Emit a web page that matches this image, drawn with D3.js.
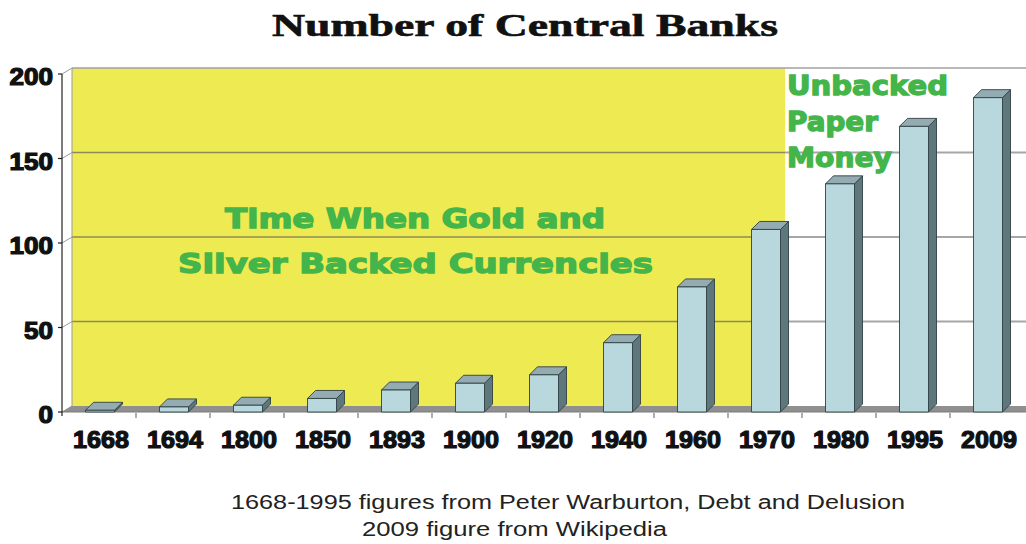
<!DOCTYPE html>
<html><head><meta charset="utf-8">
<script src="https://cdn.jsdelivr.net/npm/d3@7/dist/d3.min.js"></script>
<style>body{margin:0;background:#fff}svg{display:block}</style>
</head><body>
<svg id="c" width="1026" height="544"></svg>
<script>
const categories = ["1668","1694","1800","1850","1893","1900","1920","1940","1960","1970","1980","1995","2009"];
const values = [1, 3, 4, 8, 13, 17, 22, 41, 74, 108, 135, 169, 186];
const yTicks = [0, 50, 100, 150, 200];
const title = "Number of Central Banks";
const noteLines = ["1668-1995 figures from Peter Warburton, Debt and Delusion", "2009 figure from Wikipedia"];
const goldText = ["Time When Gold and", "Silver Backed Currencies"];
const paperText = ["Unbacked", "Paper", "Money"];
const goldEndCategory = "1970";

const svg = d3.select("#c");
const x = d3.scaleBand().domain(categories).range([62, 1024]).paddingInner(0).paddingOuter(0);
const y = d3.scaleLinear().domain([0, 200]).range([412, 74]);
const DX = 10, DY = -6;     // wall depth offset
const BD = 8;               // bar depth
const BW = 29;              // bar front width
const wallLeft = x.range()[0] + DX, wallRight = 1026;
const wallTop = y(200) + DY, wallBottom = y(0) + DY;

// back wall
svg.append("rect").attr("x", wallLeft).attr("y", wallTop).attr("width", wallRight - wallLeft).attr("height", wallBottom - wallTop).attr("fill", "#ffffff");
const yellowRight = x(goldEndCategory) + x.bandwidth() * 0.635 + DX;
svg.append("rect").attr("x", wallLeft).attr("y", wallTop).attr("width", yellowRight - wallLeft).attr("height", wallBottom - wallTop).attr("fill", "#eeea52");
svg.append("line").attr("x1", wallLeft).attr("x2", wallRight).attr("y1", wallTop).attr("y2", wallTop).attr("stroke", "#a0a0a0").attr("stroke-width", 1.5);

// gridlines on wall
yTicks.forEach(t => {
  const gy = y(t) + DY;
  if (t > 0 && t < 200) {
    svg.append("line").attr("x1", wallLeft).attr("x2", yellowRight).attr("y1", gy).attr("y2", gy).attr("stroke", "#8e8a58").attr("stroke-width", 1.6);
    svg.append("line").attr("x1", yellowRight).attr("x2", wallRight).attr("y1", gy).attr("y2", gy).attr("stroke", "#a6a6a6").attr("stroke-width", 2);
  }
  svg.append("line").attr("x1", x.range()[0]).attr("y1", y(t)).attr("x2", wallLeft).attr("y2", gy).attr("stroke", "#999").attr("stroke-width", 1);
});
svg.append("line").attr("x1", wallLeft).attr("x2", wallLeft).attr("y1", wallTop).attr("y2", wallBottom).attr("stroke", "#9a9a9a").attr("stroke-width", 1);

// floor
const fx0 = x.range()[0];
svg.append("path").attr("d", `M${fx0},${y(0)} L${fx0 + DX},${wallBottom} L${wallRight},${wallBottom} L${wallRight},${y(0)} Z`).attr("fill", "#8f8f8f");
svg.append("line").attr("x1", fx0).attr("x2", wallRight).attr("y1", y(0)).attr("y2", y(0)).attr("stroke", "#7a7a7a").attr("stroke-width", 1);

// x ticks below floor
categories.forEach((c, i) => {
  if (i === 0) return;
  svg.append("line").attr("x1", x(c)).attr("x2", x(c)).attr("y1", y(0) + 1).attr("y2", y(0) + 6).attr("stroke", "#777").attr("stroke-width", 1.2);
});

// green texts
const green = "#43b54a";
const g1 = svg.append("g").attr("fill", green).attr("stroke", green).attr("stroke-width", 1.3)
  .style("font-family", "'DejaVu Sans', sans-serif").style("font-weight", "bold");
g1.append("text").attr("x", 225).attr("y", 228).attr("font-size", 27).attr("textLength", 380).attr("lengthAdjust", "spacingAndGlyphs").text(goldText[0]);
g1.append("text").attr("x", 178).attr("y", 273).attr("font-size", 27).attr("textLength", 475).attr("lengthAdjust", "spacingAndGlyphs").text(goldText[1]);
const pLen = [161, 91, 105];
paperText.forEach((t, i) => {
  g1.append("text").attr("x", 787).attr("y", 95 + i * 36).attr("font-size", 27).attr("textLength", pLen[i]).attr("lengthAdjust", "spacingAndGlyphs").text(t);
});

// bars
const bars = svg.append("g");
categories.forEach((c, i) => {
  const v = values[i];
  const cx = x(c) + x.bandwidth() / 2 + 1;
  const l = cx - BW / 2, r = cx + BW / 2;
  const top = y(v), bot = y(0);
  const g = bars.append("g").attr("stroke", "#2f3f44").attr("stroke-width", 0.9).attr("stroke-linejoin", "round");
  g.append("path").attr("d", `M${r},${bot} L${r + BD},${bot - BD} L${r + BD},${top - BD} L${r},${top} Z`).attr("fill", "#5e777d");
  g.append("path").attr("d", `M${l},${top} L${l + BD},${top - BD} L${r + BD},${top - BD} L${r},${top} Z`).attr("fill", "#93abb1");
  g.append("rect").attr("x", l).attr("y", top).attr("width", BW).attr("height", bot - top).attr("fill", "#b9d8dd");
});

// y axis
svg.append("line").attr("x1", fx0).attr("x2", fx0).attr("y1", y(200)).attr("y2", y(0) + 4).attr("stroke", "#222").attr("stroke-width", 1.2);
const ylab = svg.append("g").style("font-family", "'Liberation Sans', Arial, sans-serif").style("font-weight", "bold").attr("fill", "#111").attr("stroke", "#111").attr("stroke-width", 1.2);
yTicks.forEach(t => {
  svg.append("line").attr("x1", fx0 - 4).attr("x2", fx0).attr("y1", y(t)).attr("y2", y(t)).attr("stroke", "#222").attr("stroke-width", 1.2);
  const s = String(t);
  ylab.append("text").attr("x", 53).attr("y", y(t) + 11).attr("text-anchor", "end").attr("font-size", 23)
    .attr("textLength", s.length * 14.5).attr("lengthAdjust", "spacingAndGlyphs").text(s);
});

// x labels
const xlab = svg.append("g").style("font-family", "'Liberation Sans', Arial, sans-serif").style("font-weight", "bold").attr("fill", "#111").attr("stroke", "#111").attr("stroke-width", 1.2);
categories.forEach(c => {
  xlab.append("text").attr("x", x(c) + x.bandwidth() / 2 + 2).attr("y", 448).attr("text-anchor", "middle").attr("font-size", 24)
    .attr("textLength", 56).attr("lengthAdjust", "spacingAndGlyphs").text(c);
});

// title
svg.append("text").attr("x", 272).attr("y", 36).attr("font-size", 31).style("font-family", "'Liberation Serif', 'Times New Roman', serif").style("font-weight", "bold")
  .attr("fill", "#111").attr("stroke", "#111").attr("stroke-width", 0.6).attr("textLength", 506).attr("lengthAdjust", "spacingAndGlyphs").text(title);

// notes
const note = svg.append("g").style("font-family", "'Liberation Sans', Arial, sans-serif").attr("fill", "#222").attr("font-size", 20);
note.append("text").attr("x", 231).attr("y", 509).attr("textLength", 674).attr("lengthAdjust", "spacingAndGlyphs").text(noteLines[0]);
note.append("text").attr("x", 362).attr("y", 536).attr("textLength", 305).attr("lengthAdjust", "spacingAndGlyphs").text(noteLines[1]);
</script>
</body></html>
